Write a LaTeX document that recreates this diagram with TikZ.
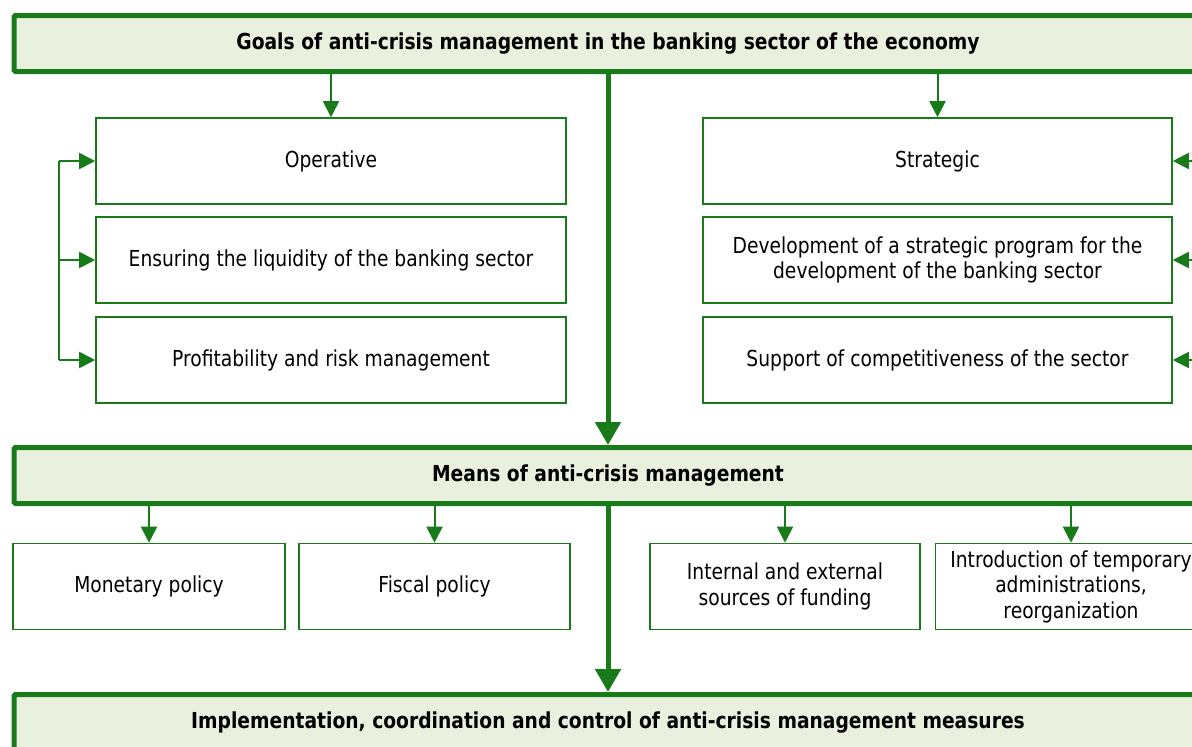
\documentclass[tikz,border=0pt]{standalone}
\usepackage{fontspec}
\setmainfont{DejaVu Sans}[FakeStretch=0.85]
\usetikzlibrary{arrows.meta,calc}
\definecolor{dgreen}{RGB}{24,122,24}
\definecolor{lgreen}{RGB}{233,241,222}
\begin{document}
\begin{tikzpicture}[x=1pt,y=-1pt,
  mainbox/.style={draw=dgreen,fill=lgreen,line width=5pt,rounded corners=1.5pt,minimum width=1188pt,minimum height=56pt,inner sep=0pt,font=\fontsize{22}{25.5}\selectfont\bfseries},
  subbox/.style={draw=dgreen,fill=white,line width=1.6pt,minimum height=86pt,inner sep=0pt,align=center,font=\fontsize{22}{25.5}\selectfont},
  thinarrow/.style={draw=dgreen,line width=2pt,-{Triangle[length=16pt,width=16pt]}},
  thinline/.style={draw=dgreen,line width=2pt},
  thickarrow/.style={draw=dgreen,line width=5pt,-{Triangle[length=23pt,width=25pt]}}]
\useasboundingbox (0,0) rectangle (1192,747);
\clip (0,0) rectangle (1192,747);
\node[mainbox] (goals) at (608,43.5) {Goals of anti-crisis management in the banking sector of the economy};
\node[mainbox] (means) at (608,475.5) {Means of anti-crisis management};
\node[mainbox] (impl) at (608,722.5) {Implementation, coordination and control of anti-crisis management measures};
\node[subbox,minimum width=470pt] (op) at (331,161) {Operative};
\node[subbox,minimum width=470pt] (liq) at (331,260) {Ensuring the liquidity of the banking sector};
\node[subbox,minimum width=470pt] (prof) at (331,360) {Profitability and risk management};
\node[subbox,minimum width=469pt] (str) at (937.5,161) {Strategic};
\node[subbox,minimum width=469pt] (dev) at (937.5,260) {Development of a strategic program for the\\development of the banking sector};
\node[subbox,minimum width=469pt] (sup) at (937.5,360) {Support of competitiveness of the sector};
\node[subbox,minimum width=272pt] (mon) at (149,586.5) {Monetary policy};
\node[subbox,minimum width=271pt] (fis) at (434.5,586.5) {Fiscal policy};
\node[subbox,minimum width=270pt] (int) at (785,586.5) {Internal and external\\sources of funding};
\node[subbox,minimum width=271pt] (intro) at (1071,586.5) {Introduction of temporary\\administrations,\\reorganization};
\coordinate (bl) at (59,0);
\coordinate (br) at (1205,0);
% top arrows
\draw[thinarrow] (op.north |- goals.south) -- (op.north);
\draw[thinarrow] (str.north |- goals.south) -- (str.north);
\draw[thickarrow] (goals.south) -- (means.north);
\draw[thickarrow] (means.south) -- (impl.north);
% left bracket
\draw[thinline] (bl |- op.west) -- (bl |- prof.west);
\draw[thinarrow] (bl |- op.west) -- (op.west);
\draw[thinarrow] (bl |- liq.west) -- (liq.west);
\draw[thinarrow] (bl |- prof.west) -- (prof.west);
% right arrows
\draw[thinarrow] (br |- str.east) -- (str.east);
\draw[thinarrow] (br |- dev.east) -- (dev.east);
\draw[thinarrow] (br |- sup.east) -- (sup.east);
% means arrows
\draw[thinarrow] (mon.north |- means.south) -- (mon.north);
\draw[thinarrow] (fis.north |- means.south) -- (fis.north);
\draw[thinarrow] (int.north |- means.south) -- (int.north);
\draw[thinarrow] (intro.north |- means.south) -- (intro.north);
\end{tikzpicture}
\end{document}
